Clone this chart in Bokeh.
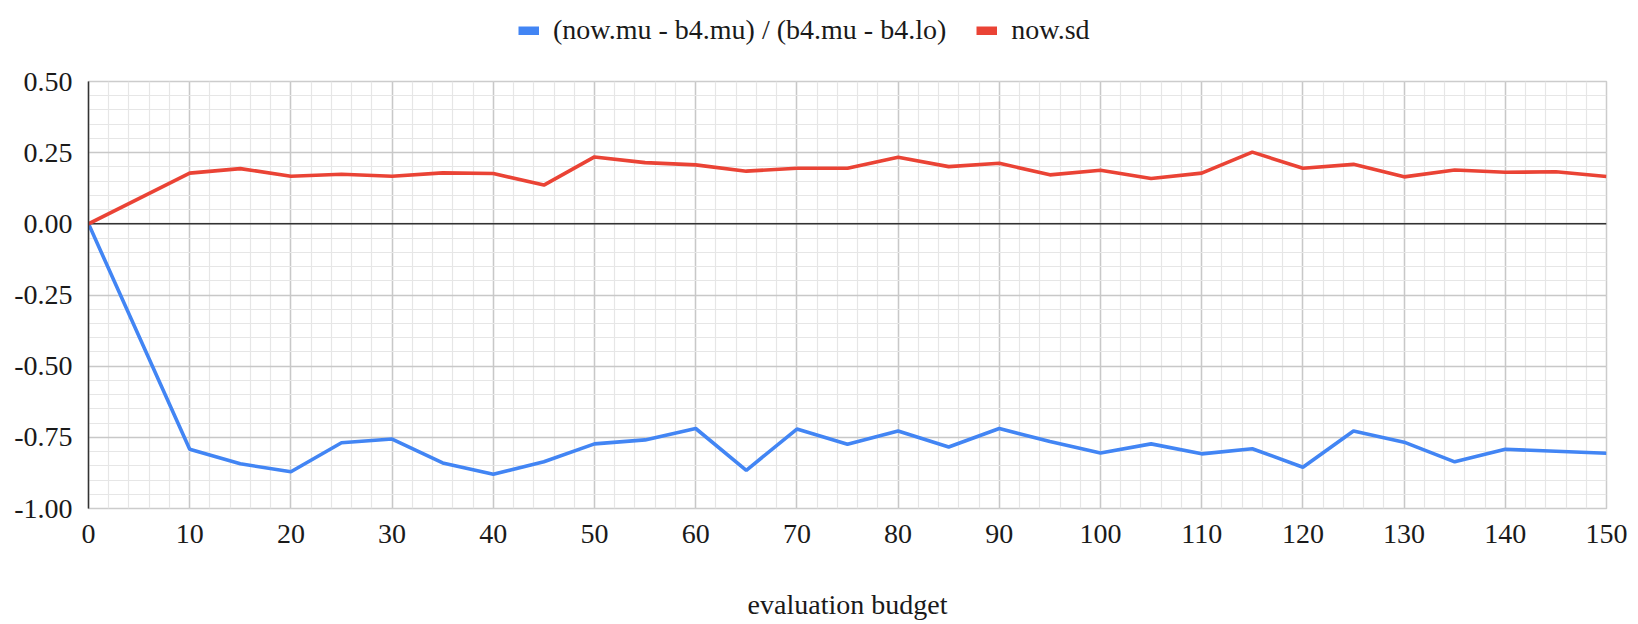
from bokeh.plotting import figure
from bokeh.layouts import column
from bokeh.models import (ColumnDataSource, FixedTicker, NumeralTickFormatter, Span,
                          Legend, LegendItem)
from bokeh.embed import file_html
from bokeh.resources import INLINE

# ---- data ----
budget = [0, 10, 15, 20, 25, 30, 35, 40, 45, 50, 55, 60, 65, 70, 75, 80, 85, 90,
          95, 100, 105, 110, 115, 120, 125, 130, 135, 140, 145, 150]
rel_mu = [0.0, -0.792, -0.843, -0.871, -0.769, -0.756, -0.840, -0.880, -0.836,
          -0.773, -0.759, -0.719, -0.866, -0.721, -0.774, -0.728, -0.784, -0.719,
          -0.765, -0.805, -0.773, -0.808, -0.790, -0.855, -0.728, -0.767, -0.836,
          -0.792, -0.799, -0.806]
now_sd = [0.0, 0.178, 0.194, 0.167, 0.174, 0.167, 0.179, 0.177, 0.136,
          0.235, 0.215, 0.207, 0.185, 0.195, 0.195, 0.234, 0.201, 0.213,
          0.172, 0.188, 0.159, 0.178, 0.252, 0.195, 0.209, 0.165, 0.189,
          0.181, 0.183, 0.166]
series_names = ["(now.mu - b4.mu) / (b4.mu - b4.lo)", "now.sd"]
x_ticks = list(range(0, 151, 10))
y_ticks = [-1.0, -0.75, -0.5, -0.25, 0.0, 0.25, 0.5]

BLUE = "#4285F4"
RED = "#EA4335"
FONT = "Liberation Serif"
TXT = "#1a1a1a"
LEG_H = 55

src = ColumnDataSource(dict(x=budget, mu=rel_mu, sd=now_sd))

p = figure(output_backend="svg", toolbar_location=None,
           frame_width=1518, frame_height=427,
           min_border_left=88, min_border_right=24,
           min_border_top=81 - LEG_H, min_border_bottom=104,
           x_range=(0, 150), y_range=(-1.0, 0.5))
p.background_fill_color = "white"
p.border_fill_color = "white"
p.outline_line_color = "#cccccc"
p.outline_line_width = 1.5

# grids
p.xgrid.ticker = FixedTicker(ticks=x_ticks, minor_ticks=list(range(0, 151, 2)))
p.ygrid.ticker = FixedTicker(ticks=y_ticks,
                             minor_ticks=[round(-1.0 + 0.05 * i, 2) for i in range(31)])
for g in (p.xgrid, p.ygrid):
    g.grid_line_color = "#c8c8c8"
    g.grid_line_width = 1.5
    g.minor_grid_line_color = "#e6e6e6"
    g.minor_grid_line_width = 1.2

# axes
p.xaxis.ticker = FixedTicker(ticks=x_ticks)
p.yaxis.ticker = FixedTicker(ticks=y_ticks)
p.yaxis.formatter = NumeralTickFormatter(format="0.00")
for ax in (p.xaxis, p.yaxis):
    ax.major_tick_line_color = None
    ax.minor_tick_line_color = None
    ax.major_tick_out = 0
    ax.major_tick_in = 0
    ax.major_label_text_font = FONT
    ax.major_label_text_font_size = "28px"
    ax.major_label_text_color = TXT
p.xaxis.axis_line_color = None
p.yaxis.axis_line_color = "#333333"
p.yaxis.axis_line_width = 1.5
p.yaxis.major_label_standoff = 16
p.xaxis.major_label_standoff = 16
p.xaxis.axis_label = "evaluation budget"
p.xaxis.axis_label_text_font = FONT
p.xaxis.axis_label_text_font_size = "28px"
p.xaxis.axis_label_text_font_style = "normal"
p.xaxis.axis_label_text_color = TXT
p.xaxis.axis_label_standoff = 43

zero = Span(location=0, dimension="width", line_color="#333333", line_width=1.5,
            level="underlay")
p.add_layout(zero)

p.line("x", "mu", source=src, line_color=BLUE, line_width=3.6)
p.line("x", "sd", source=src, line_color=RED, line_width=3.6)

# ---- legend strip above the chart (frame aligned with the chart's frame) ----
lf = figure(output_backend="svg", toolbar_location=None,
            frame_width=1518, height=LEG_H,
            min_border_left=88, min_border_right=24, min_border_top=0, min_border_bottom=0,
            x_range=(1000, 1001), y_range=(1000, 1001))
lf.axis.visible = False
lf.grid.visible = False
lf.outline_line_color = None
lf.background_fill_color = "white"
lf.border_fill_color = "white"

# same series, outside the strip's view: only their legend swatches show
k1 = lf.line("x", "mu", source=src, line_color=BLUE, line_width=9, line_cap="butt")
k2 = lf.line("x", "sd", source=src, line_color=RED, line_width=9, line_cap="butt")

legend = Legend(items=[LegendItem(label=series_names[0], renderers=[k1]),
                       LegendItem(label=series_names[1], renderers=[k2])],
                orientation="horizontal", location=(430, 9),
                glyph_width=21, glyph_height=9, label_standoff=14,
                spacing=30, padding=0, margin=0,
                border_line_color=None, background_fill_alpha=0,
                label_text_font=FONT, label_text_font_size="28px",
                label_text_color=TXT)
lf.add_layout(legend)

layout = column(lf, p, spacing=0)
open("out.html", "w").write(file_html(layout, INLINE))
